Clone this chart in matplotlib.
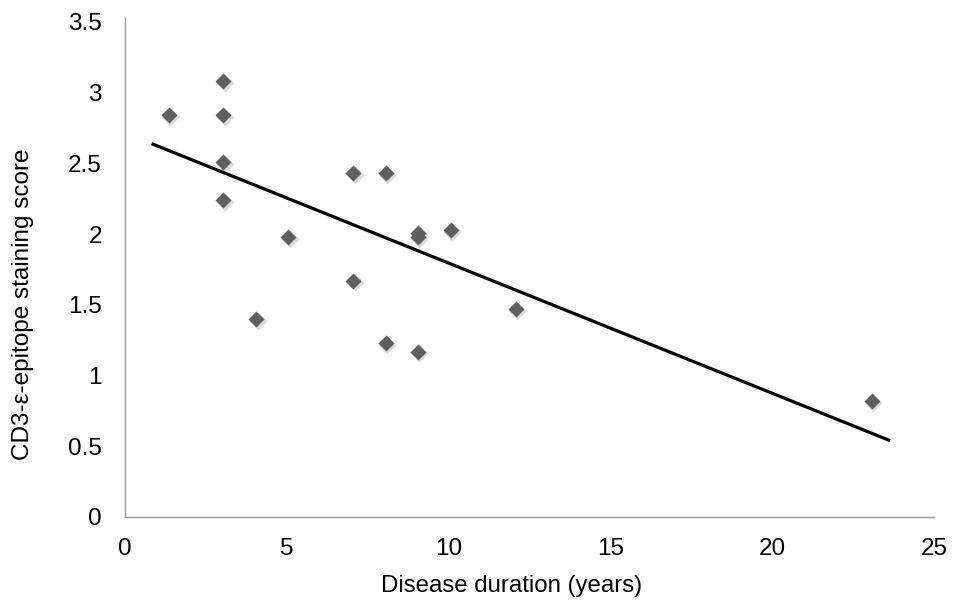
import matplotlib
matplotlib.use("Agg")
import matplotlib.pyplot as plt
import matplotlib.transforms as mtransforms

plt.rcParams["font.family"] = ["Liberation Sans", "DejaVu Sans"]

# data
duration = [1.37, 3.05, 3.05, 3.05, 3.05, 4.06, 5.05, 7.06, 7.06, 8.07,
            8.07, 9.05, 9.05, 9.05, 10.08, 12.09, 23.08]
score = [2.84, 3.08, 2.84, 2.51, 2.24, 1.40, 1.98, 2.43, 1.67, 2.43,
         1.23, 2.01, 1.98, 1.17, 2.03, 1.47, 0.82]
trend_x = [0.83, 23.64]
trend_y = [2.64, 0.54]

fig = plt.figure(figsize=(9.61, 6.01), dpi=100)
ax = fig.add_axes([0.1298, 0.1398, 0.9719 - 0.1298, 0.9634 - 0.1398])

# soft drop shadow under the markers
shadow = mtransforms.offset_copy(ax.transData, fig=fig, x=1.0, y=-1.2, units="points")
ax.plot(duration, score, "D", color="#c4c4c4", ms=8.8, mec="none", alpha=0.6,
        transform=shadow, zorder=2)
ax.plot(duration, score, "D", color="#5f5f5f", ms=8.4, mec="none", zorder=3)
ax.plot(trend_x, trend_y, color="black", lw=2.3, solid_capstyle="butt", zorder=4)

ax.set_xlim(0, 25)
ax.set_ylim(0, 3.5)
ax.set_xticks([0, 5, 10, 15, 20, 25])
ax.set_yticks([0, 0.5, 1, 1.5, 2, 2.5, 3, 3.5])
ax.set_yticklabels(["0", "0.5", "1", "1.5", "2", "2.5", "3", "3.5"])
ax.tick_params(length=0, labelsize=17.5)
ax.tick_params(axis="x", pad=15)
ax.tick_params(axis="y", pad=16.5)
for s in ("top", "right"):
    ax.spines[s].set_visible(False)
for s in ("left", "bottom"):
    ax.spines[s].set_color("#9a9a9a")
    ax.spines[s].set_linewidth(1.0)
ax.spines["left"].set_bounds(0, 3.53)

ax.set_xlabel("Disease duration (years)", fontsize=17.3, va="center")
ax.xaxis.set_label_coords(0.4786, -0.139)
ax.set_ylabel("CD3-\u03b5-epitope staining score", fontsize=17.5, va="center")
ax.yaxis.set_label_coords(-0.1257, 0.430)

fig.savefig("out.png", dpi=100, facecolor="white")
